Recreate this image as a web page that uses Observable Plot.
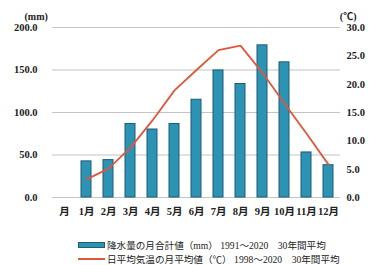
<!DOCTYPE html>
<html>
<head>
<meta charset="utf-8">
<script src="https://cdn.jsdelivr.net/npm/d3@7"></script>
<script src="https://cdn.jsdelivr.net/npm/@observablehq/plot@0.6"></script>
<style>
  body { margin: 0; background: #fff; width: 372px; height: 265px; overflow: hidden; }
  #legend { font-family: 'Liberation Serif', 'Noto Sans CJK JP', serif; font-size: 9.6px; color: #222; padding-left: 78px; padding-top: 10px; }
  .row { display: flex; align-items: center; height: 14px; white-space: pre; }
  .sw { width: 27px; margin-right: 2px; box-sizing: border-box; }
</style>
</head>
<body>
<div id="chart"></div>
<div id="legend"></div>
<script>
const categories = ["月","1月","2月","3月","4月","5月","6月","7月","8月","9月","10月","11月","12月"];
const months = ["1月","2月","3月","4月","5月","6月","7月","8月","9月","10月","11月","12月"];
const precipitation = [42.5, 44, 86.5, 80, 86.5, 115, 149.5, 133.5, 179, 159, 53, 38];
const temperature = [3.2, 5.1, 8.8, 13.6, 18.9, 22.5, 26.0, 26.8, 22.0, 16.6, 11.3, 5.8];
const leftTicks = [0, 50, 100, 150, 200];
const rightTicks = [0, 5, 10, 15, 20, 25, 30];
const seriesNames = ["降水量の月合計値（mm） 1991～2020　30年間平均", "日平均気温の月平均値（℃） 1998～2020　30年間平均"];
const barFill = "#2d93b5", barStroke = "#1b5d75", lineColor = "#e2563a";

const k = 200 / 30;
const bars = months.map((m, i) => ({month: m, value: precipitation[i]}));
const temps = months.map((m, i) => ({month: m, value: temperature[i] * k}));

const chart = Plot.plot({
  width: 372,
  height: 228,
  marginLeft: 52,
  marginRight: 32,
  marginTop: 27,
  marginBottom: 31,
  style: {fontFamily: "'Liberation Serif', 'Noto Sans CJK JP', serif", fontSize: "10.5px", color: "#222", background: "#fff"},
  x: {type: "band", domain: categories, padding: 0},
  y: {domain: [0, 200]},
  marks: [
    Plot.gridY(leftTicks, {stroke: "#c4c4c4", strokeOpacity: 1, strokeWidth: 1.2}),
    Plot.axisY(leftTicks, {anchor: "left", tickSize: 0, tickPadding: 15, tickFormat: d => d.toFixed(1), label: null, fontWeight: 600}),
    Plot.axisY(rightTicks.map(t => t * k), {anchor: "right", tickSize: 0, tickPadding: 6, tickFormat: d => (d / k).toFixed(1), label: null, fontWeight: 600}),
    Plot.axisX({anchor: "bottom", tickSize: 0, tickPadding: 10, label: null, fontWeight: 600}),
    Plot.barY(bars, {x: "month", y: "value", fill: barFill, stroke: barStroke, strokeWidth: 1, insetLeft: 6, insetRight: 6}),
    Plot.line(temps, {x: "month", y: "value", stroke: lineColor, strokeWidth: 1.8, curve: "linear"}),
    Plot.text(["(mm)"], {frameAnchor: "top-left", dx: -28, dy: -15, fontSize: 10, fontWeight: 600}),
    Plot.text(["(℃)"], {frameAnchor: "top-right", dx: 16, dy: -15, fontSize: 10, fontWeight: 600})
  ]
});
document.getElementById("chart").appendChild(chart);

const legend = document.getElementById("legend");
legend.innerHTML = `
  <div class="row"><span class="sw" style="height:6px;background:${barFill};border:1px solid ${barStroke}"></span><span>${seriesNames[0]}</span></div>
  <div class="row"><span class="sw" style="height:2px;background:${lineColor}"></span><span>${seriesNames[1]}</span></div>`;
</script>
</body>
</html>
